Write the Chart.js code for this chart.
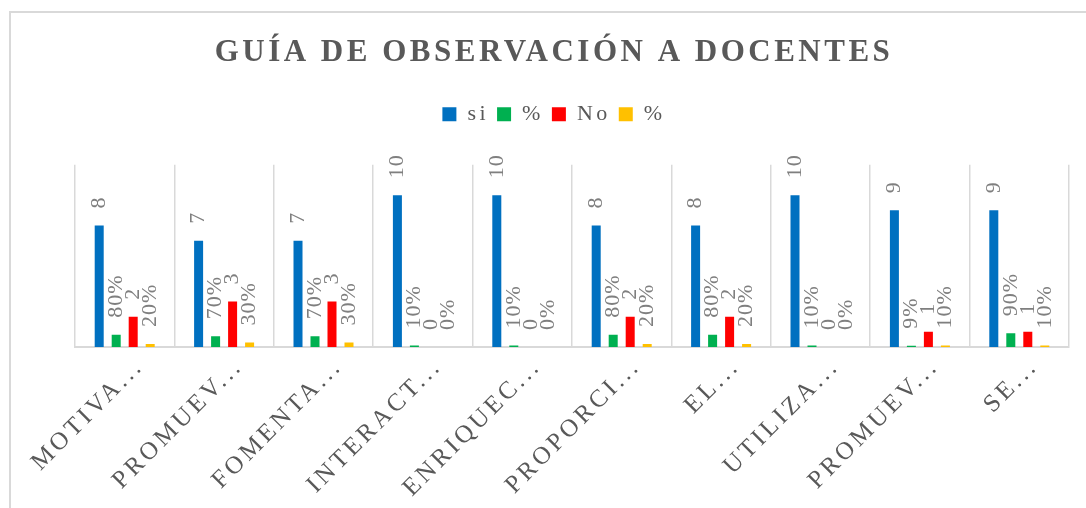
<!DOCTYPE html>
<html>
<head>
<meta charset="utf-8">
<script src="https://cdn.jsdelivr.net/npm/chart.js@4/dist/chart.umd.min.js"></script>
<style>
  html, body { margin: 0; padding: 0; background: #fff; overflow: hidden; }
  #wrap { position: relative; width: 1086px; height: 508px; }
  #frame { position: absolute; left: 9px; top: 11px; width: 1200px; height: 600px; border: 2px solid #d9d9d9; }
  #myChart { position: absolute; left: 0; top: 0; }
</style>
</head>
<body>
<div id="wrap">
  <div id="frame"></div>
  <canvas id="myChart" width="1086" height="508"></canvas>
</div>
<script>
// labels along x-axis (truncated like the original)
var categories = ['MOTIVA...', 'PROMUEV...', 'FOMENTA...', 'INTERACT...', 'ENRIQUEC...', 'PROPORCI...', 'EL...', 'UTILIZA...', 'PROMUEV...', 'SE...'];

// series
var siValues = [8, 7, 7, 10, 10, 8, 8, 10, 9, 9];
var siPct = [0.8, 0.7, 0.7, 0.1, 0.1, 0.8, 0.8, 0.1, 0.09, 0.9];
var noValues = [2, 3, 3, 0, 0, 2, 2, 0, 1, 1];
var noPct = [0.2, 0.3, 0.3, 0, 0, 0.2, 0.2, 0, 0.1, 0.1];

var serif = '"Liberation Serif", "Times New Roman", serif';

// spaced lettering like the office chart (title, legend, ticks)
var spacing = {
  id: 'spacing',
  beforeUpdate: function(chart) { chart.ctx.letterSpacing = '3.5px'; },
  beforeDraw: function(chart) { chart.ctx.letterSpacing = '3.5px'; }
};

// draws the rotated value labels above each bar
var barLabels = {
  id: 'barLabels',
  afterDatasetsDraw: function(chart) {
    var ctx = chart.ctx;
    ctx.save();
    ctx.letterSpacing = '1px';
    ctx.font = '22px ' + serif;
    ctx.fillStyle = '#7f7f7f';
    ctx.textAlign = 'left';
    ctx.textBaseline = 'middle';
    chart.data.datasets.forEach(function(ds, i) {
      var meta = chart.getDatasetMeta(i);
      meta.data.forEach(function(bar, j) {
        var v = ds.data[j];
        var txt = ds.pct ? Math.round(v * 100) + '%' : String(v);
        ctx.save();
        ctx.translate(bar.x, bar.y - 17);
        ctx.rotate(-Math.PI / 2);
        ctx.fillText(txt, 0, 0);
        ctx.restore();
      });
    });
    ctx.restore();
  }
};

var ctx = document.getElementById('myChart');
var myChart = new Chart(ctx, {
  type: 'bar',
  data: {
    labels: categories,
    datasets: [
      { label: 'si', data: siValues, backgroundColor: '#0070c0' },
      { label: '%', data: siPct, backgroundColor: '#00b050', pct: true },
      { label: 'No', data: noValues, backgroundColor: '#ff0000' },
      { label: '%', data: noPct, backgroundColor: '#ffc000', pct: true }
    ]
  },
  options: {
    responsive: false,
    animation: false,
    datasets: {
      bar: { categoryPercentage: 0.684, barPercentage: 0.53 }
    },
    layout: { padding: { top: 34, left: 39, right: 17, bottom: 0 } },
    plugins: {
      title: {
        display: true,
        text: 'GUÍA DE OBSERVACIÓN A DOCENTES',
        color: '#595959',
        font: { family: serif, size: 31, weight: 'bold' },
        padding: { top: 0, bottom: 24 }
      },
      subtitle: {
        // empty spacer between legend and plot
        display: true,
        text: '',
        weight: 500,
        font: { size: 10 },
        padding: { top: 8.8, bottom: 8.8 }
      },
      legend: {
        display: true,
        labels: {
          color: '#595959',
          font: { family: serif, size: 22 },
          boxWidth: 14,
          boxHeight: 14,
          padding: 8
        }
      },
      tooltip: { enabled: false }
    },
    scales: {
      x: {
        grid: { offset: true, color: '#d9d9d9', lineWidth: 1.5, drawTicks: false },
        border: { color: '#d9d9d9', width: 2 },
        ticks: {
          color: '#595959',
          font: { family: serif, size: 25 },
          minRotation: 45,
          maxRotation: 45,
          autoSkip: false,
          padding: 5,
          labelOffset: 15
        },
        afterFit: function(scale) { scale.height = 161; }
      },
      y: {
        display: true,
        min: 0,
        max: 12,
        ticks: { display: false },
        grid: { display: false },
        border: { display: false },
        afterFit: function(scale) { scale.width = 36; }
      }
    }
  },
  plugins: [spacing, barLabels]
});
</script>
</body>
</html>
